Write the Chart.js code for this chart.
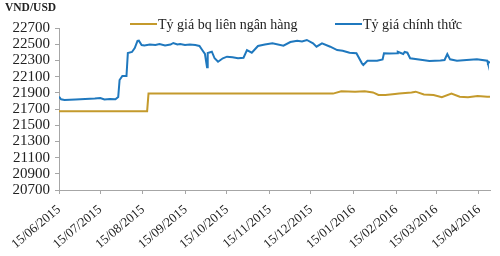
<!DOCTYPE html>
<html>
<head>
  <title>Tỷ giá VND/USD</title>
  <meta charset="UTF-8">
  <script src="https://cdn.jsdelivr.net/npm/chart.js"></script>
  <style>
    body {
      margin: 0;
      padding: 0;
      background-color: white;
    }
    .chart-container {
      width: 500px;
      height: 256px;
    }
  </style>
</head>
<body>
  <div class="chart-container">
    <canvas id="rateChart"></canvas>
  </div>

  <script>
    // Days counted from 15/06/2015
    const monthDays = [0, 30, 61, 92, 122, 153, 183, 214, 245, 274, 305];
    const monthLabels = ['15/06/2015', '15/07/2015', '15/08/2015', '15/09/2015', '15/10/2015',
      '15/11/2015', '15/12/2015', '15/01/2016', '15/02/2016', '15/03/2016', '15/04/2016'];

    // Tỷ giá bq liên ngân hàng
    const interbankDays = [0, 64, 65, 199, 205, 215, 222, 228, 232, 237, 244, 247, 256, 259,
      265, 272, 278, 285, 291, 297, 304, 311, 313];
    const interbankRate = [21673, 21673, 21890, 21890, 21918, 21912, 21920, 21905, 21873, 21873,
      21885, 21891, 21905, 21914, 21880, 21873, 21845, 21890, 21852, 21845, 21860, 21852, 21850];

    // Tỷ giá chính thức
    const officialDays = [0, 1.5, 4, 12, 19, 26, 30, 33, 37, 41, 43, 44, 46, 49, 50, 53, 55, 57,
      58, 60, 62, 66, 70, 73, 77, 81, 83, 86, 88, 91.5, 95, 99, 102, 104, 106, 107.5, 108, 111,
      113, 115.5, 119, 122, 126, 130, 134, 136.5, 140, 144.5, 149.5, 155, 163, 168, 173, 176.5,
      180, 184.5, 187, 191, 197, 202, 206, 211, 216, 220, 221, 224, 231, 235, 236, 240, 245.5,
      246, 250, 251, 253, 255, 264, 269, 277, 280, 282, 284, 289, 296, 303.5, 311, 311.5, 313];
    const officialRate = [21852, 21820, 21811, 21817, 21823, 21830, 21836, 21817, 21823, 21820,
      21848, 22058, 22107, 22107, 22391, 22404, 22453, 22540, 22543, 22490, 22484, 22496, 22490,
      22502, 22484, 22496, 22515, 22496, 22502, 22490, 22496, 22490, 22478, 22428, 22379, 22215,
      22391, 22407, 22326, 22284, 22326, 22346, 22338, 22326, 22333, 22428, 22395, 22478, 22496,
      22511, 22481, 22527, 22543, 22533, 22552, 22511, 22469, 22511, 22469, 22428, 22420, 22395,
      22388, 22264, 22243, 22296, 22296, 22313, 22388, 22385, 22388, 22407, 22379, 22404, 22395,
      22326, 22305, 22292, 22299, 22305, 22379, 22313, 22296, 22305, 22313, 22296, 22264, 22284];

    const toPoints = (days, values) => days.map((d, i) => ({ x: d, y: values[i] }));

    // Legend drawn by hand to sit where it sits in the original
    const lineLegend = {
      id: 'lineLegend',
      afterDraw(chart, args, opts) {
        const ctx = chart.ctx;
        ctx.save();
        ctx.font = '14px "Liberation Serif"';
        ctx.textBaseline = 'middle';
        ctx.fillStyle = '#222';
        chart.data.datasets.forEach((ds, i) => {
          const x = opts.xs[i];
          ctx.strokeStyle = ds.borderColor;
          ctx.lineWidth = 2;
          ctx.beginPath();
          ctx.moveTo(x, opts.y);
          ctx.lineTo(x + opts.lineLength, opts.y);
          ctx.stroke();
          ctx.fillText(ds.label, x + opts.lineLength + 1, opts.y + 1);
        });
        ctx.restore();
      }
    };

    const ctx = document.getElementById('rateChart').getContext('2d');
    new Chart(ctx, {
      type: 'line',
      data: {
        datasets: [{
          label: 'Tỷ giá bq liên ngân hàng',
          data: toPoints(interbankDays, interbankRate),
          borderColor: '#C49A2C',
          borderWidth: 2,
          pointRadius: 0,
          tension: 0
        }, {
          label: 'Tỷ giá chính thức',
          data: toPoints(officialDays, officialRate),
          borderColor: '#1F78BE',
          borderWidth: 2,
          pointRadius: 0,
          tension: 0
        }]
      },
      plugins: [lineLegend],
      options: {
        responsive: true,
        maintainAspectRatio: false,
        animation: false,
        layout: {
          autoPadding: false,
          padding: { top: 0, right: 10, bottom: 0, left: 5 }
        },
        scales: {
          x: {
            type: 'linear',
            min: 0,
            max: 313,
            afterFit: s => { s.height = 66; },
            afterBuildTicks: s => { s.ticks = monthDays.map(v => ({ value: v })); },
            grid: { drawOnChartArea: false, tickLength: 4, color: '#a6a6a6' },
            border: { color: '#a6a6a6', width: 1 },
            ticks: {
              autoSkip: false,
              minRotation: 40,
              maxRotation: 40,
              padding: 8,
              color: '#222',
              font: { family: '"Liberation Serif"', size: 13 },
              callback: value => monthLabels[monthDays.indexOf(value)]
            }
          },
          y: {
            min: 20700,
            max: 22700,
            afterFit: s => { s.width = 54; },
            grid: { drawOnChartArea: false, tickLength: 4, color: '#a6a6a6' },
            border: { color: '#a6a6a6', width: 1 },
            ticks: {
              stepSize: 200,
              autoSkip: false,
              padding: 5,
              color: '#222',
              font: { family: '"Liberation Serif"', size: 15 },
              callback: value => String(value)
            }
          }
        },
        plugins: {
          legend: { display: false },
          tooltip: { enabled: false },
          title: {
            display: true,
            text: 'VND/USD',
            align: 'start',
            color: '#222',
            font: { family: '"Liberation Serif"', size: 11.5, weight: 'bold', lineHeight: 1.2 },
            padding: { top: 1, bottom: 13.2 }
          },
          lineLegend: { xs: [130, 335], y: 24, lineLength: 27 }
        }
      }
    });
  </script>
</body>
</html>
